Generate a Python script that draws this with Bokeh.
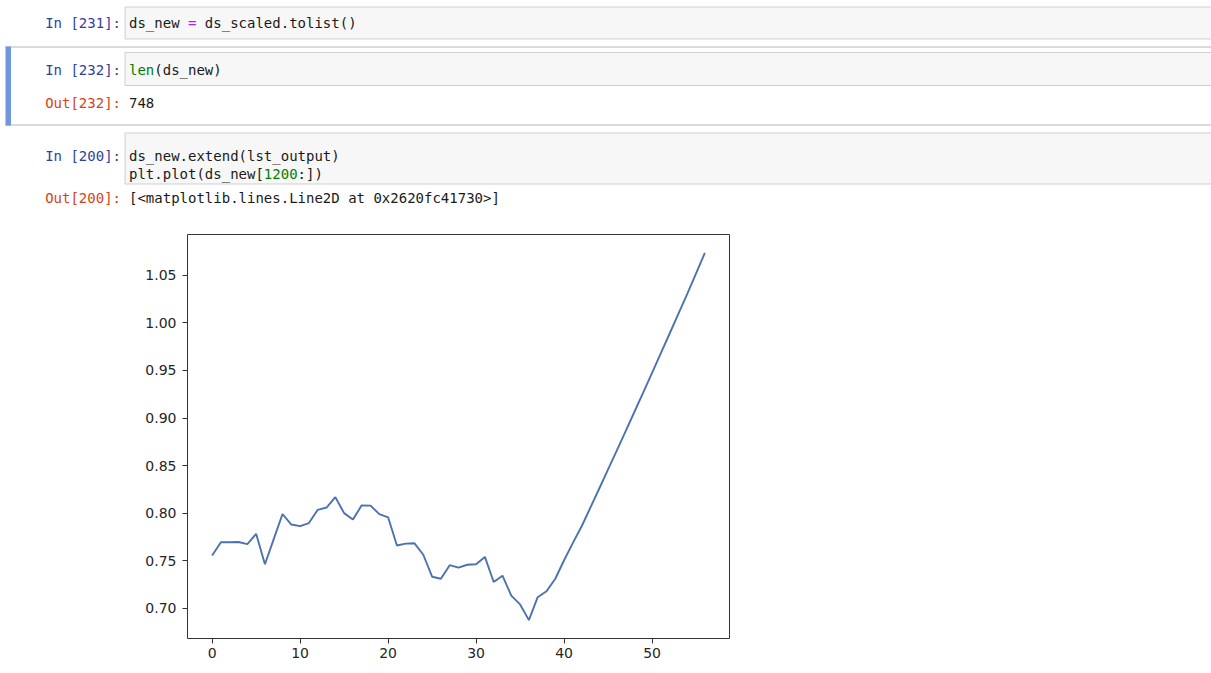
from bokeh.plotting import figure
from bokeh.layouts import column
from bokeh.models import Range1d, FixedTicker, PrintfTickFormatter, ColumnDataSource
from bokeh.core.properties import value
from bokeh.embed import file_html
from bokeh.resources import INLINE

# ---- chart data (ds_new[1200:]) ----
series = [0.7556, 0.7695, 0.7695, 0.7698, 0.7676, 0.7784, 0.7464, 0.7728, 0.7992, 0.7881,
          0.7865, 0.7897, 0.8036, 0.8060, 0.8169, 0.8001, 0.7934, 0.8083, 0.8080, 0.7991,
          0.7957, 0.7661, 0.7681, 0.7684, 0.7564, 0.7333, 0.7312, 0.7454, 0.7428, 0.7459,
          0.7464, 0.7541, 0.7278, 0.7344, 0.7134, 0.7042, 0.6877, 0.7118, 0.7181, 0.7312,
          0.7506, 0.7689, 0.7863, 0.8061, 0.8260, 0.8460, 0.8661, 0.8863, 0.9066, 0.9270,
          0.9475, 0.9681, 0.9888, 1.0096, 1.0305, 1.0520, 1.0735]
x_ticks = [0, 10, 20, 30, 40, 50]
y_ticks = [0.70, 0.75, 0.80, 0.85, 0.90, 0.95, 1.00, 1.05]

# ---- notebook texts ----
in_prompts = ["In [231]:", "In [232]:", "In [200]:"]
out_prompts = ["Out[232]:", "Out[200]:"]
out_texts = ["748", "[<matplotlib.lines.Line2D at 0x2620fc41730>]"]
# code lines as (token, color) lists
code_lines = [
    [("ds_new ", "#1a1a1a"), ("=", "#AA22FF"), (" ds_scaled.tolist()", "#1a1a1a")],
    [("len", "#008000"), ("(ds_new)", "#1a1a1a")],
    [("ds_new.extend(lst_output)", "#1a1a1a")],
    [("plt.plot(ds_new[", "#1a1a1a"), ("1200", "#008000"), (":])", "#1a1a1a")],
]

W = 1211
HA = 226
MONO = "DejaVu Sans Mono"
FS = 14
CW = FS * 0.60205

top = figure(width=W, height=HA, x_range=Range1d(0, W), y_range=Range1d(HA, 0),
             output_backend="svg", toolbar_location=None, min_border=0,
             x_axis_location=None, y_axis_location=None)
top.frame_align = False
top.grid.visible = False
top.outline_line_color = None
top.background_fill_color = "white"
top.border_fill_color = "white"

# selected cell frame and blue bar
top.segment(x0=[5, 5], y0=[46.5, 124.5], x1=[1215, 1215], y1=[46.5, 124.5],
            line_color="#b5b5b5", line_width=1)
top.quad(left=[5], right=[10.5], top=[46], bottom=[125], fill_color="#6f98dc", line_color=None)

# input boxes
boxes = ColumnDataSource(dict(l=[124.5, 124.5, 124.5], r=[1215, 1215, 1215],
                              t=[6.5, 52.0, 132.5], b=[38.5, 85.0, 183.5]))
top.quad(left="l", right="r", top="t", bottom="b", source=boxes,
         fill_color="#f7f7f7", line_color="#cfcfcf", line_width=1)

# prompts
in_y = [22, 69.5, 155]
out_y = [102, 197]
top.text(x=[120.5] * 3, y=in_y, text=in_prompts, text_align="right", text_baseline="middle",
         text_font=value(MONO), text_font_size=f"{FS}px", text_color="#303F9F")
top.text(x=[120.5] * 2, y=out_y, text=out_prompts, text_align="right", text_baseline="middle",
         text_font=value(MONO), text_font_size=f"{FS}px", text_color="#D84315")
top.text(x=[128.5] * 2, y=out_y, text=out_texts, text_align="left", text_baseline="middle",
         text_font=value(MONO), text_font_size=f"{FS}px", text_color="#1a1a1a")

# code tokens (leading/trailing spaces become offsets)
code_y = [22, 69.5, 155, 173.5]
tx, ty, tt, tc = [], [], [], []
for line, yy in zip(code_lines, code_y):
    n = 0
    for tok, col in line:
        lead = len(tok) - len(tok.lstrip(" "))
        tx.append(128.5 + (n + lead) * CW)
        ty.append(yy)
        tt.append(tok.strip(" "))
        tc.append(col)
        n += len(tok)
tok_src = ColumnDataSource(dict(x=tx, y=ty, text=tt, color=tc))
top.text(x="x", y="y", text="text", text_color="color", source=tok_src,
         text_align="left", text_baseline="middle",
         text_font=value(MONO), text_font_size=f"{FS}px")

# ---- matplotlib-like chart ----
xs = list(range(len(series)))
n = len(series) - 1
xpad = 0.05 * n
ymin, ymax = min(series), max(series)
ypad = 0.05 * (ymax - ymin)

chart = figure(frame_width=542, frame_height=404,
               x_range=Range1d(-xpad, n + xpad), y_range=Range1d(ymin - ypad, ymax + ypad),
               min_border_left=187, min_border_right=W - 187 - 542, min_border_top=8,
               min_border_bottom=34,
               output_backend="svg", toolbar_location=None)
chart.frame_align = False
chart.grid.visible = False
chart.outline_line_color = "#333333"
chart.outline_line_width = 1
chart.xaxis.ticker = FixedTicker(ticks=x_ticks)
chart.yaxis.ticker = FixedTicker(ticks=y_ticks)
chart.yaxis.formatter = PrintfTickFormatter(format="%.2f")
for ax in chart.axis:
    ax.axis_line_color = None
    ax.major_tick_line_color = "#333333"
    ax.major_tick_out = 5
    ax.major_tick_in = 0
    ax.minor_tick_line_color = None
    ax.major_label_text_font = "DejaVu Sans"
    ax.major_label_text_font_size = "14px"
    ax.major_label_text_color = "#262626"
chart.xaxis.major_label_standoff = 4
chart.yaxis.major_label_standoff = 6

chart.line(xs, series, line_color="#4C72B0", line_width=1.9)

layout = column(top, chart, spacing=0)
open("out.html", "w").write(file_html(layout, INLINE))
